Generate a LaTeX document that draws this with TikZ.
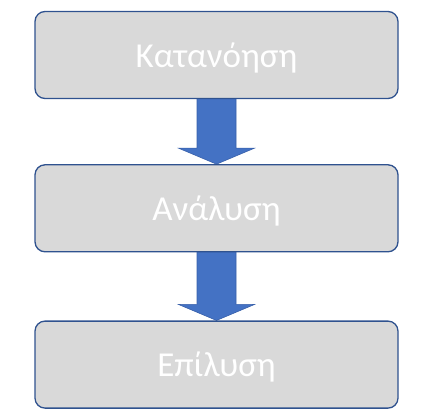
\documentclass[tikz,border=0pt]{standalone}
\usepackage{fontspec}
\setmainfont{Carlito}
\usetikzlibrary{positioning,calc,backgrounds}
\definecolor{boxfill}{RGB}{217,217,217}
\definecolor{boxedge}{RGB}{47,82,143}
\definecolor{arrowblue}{RGB}{68,114,196}
\definecolor{arrowedge}{RGB}{56,96,170}
\begin{document}
\begin{tikzpicture}[
stage/.style={rectangle, rounded corners=10pt, draw=boxedge, fill=boxfill, line width=1.3pt,
  minimum width=363pt, minimum height=87pt, text=white, text depth=0pt,
  font=\fontsize{35}{42}\selectfont},
blockarrow/.style={fill=arrowblue, draw=arrowedge, line width=0.6pt,
  to path={let \p1=(\tikztostart.south), \p2=(\tikztotarget.north) in
    (\x1-19.5pt,\y1+2pt) -- (\x1-19.5pt,\y2+16pt) -- (\x1-38pt,\y2+16pt) -- (\x1,\y2)
    -- (\x1+38pt,\y2+16pt) -- (\x1+19.5pt,\y2+16pt) -- (\x1+19.5pt,\y1+2pt) -- cycle}}
]
\useasboundingbox (0,0) rectangle (424pt,-420pt);
%Nodes
\node[stage]     (kat)     at (216.5pt,-55pt)        {Κατανόηση};
\node[stage]     (ana)     [below=65pt of kat]       {Ανάλυση};
\node[stage]     (epi)     [below=68pt of ana]       {Επίλυση};
%Arrows
\begin{scope}[on background layer]
\draw[blockarrow] (kat) to (ana);
\draw[blockarrow] (ana) to (epi);
\end{scope}
\end{tikzpicture}
\end{document}
